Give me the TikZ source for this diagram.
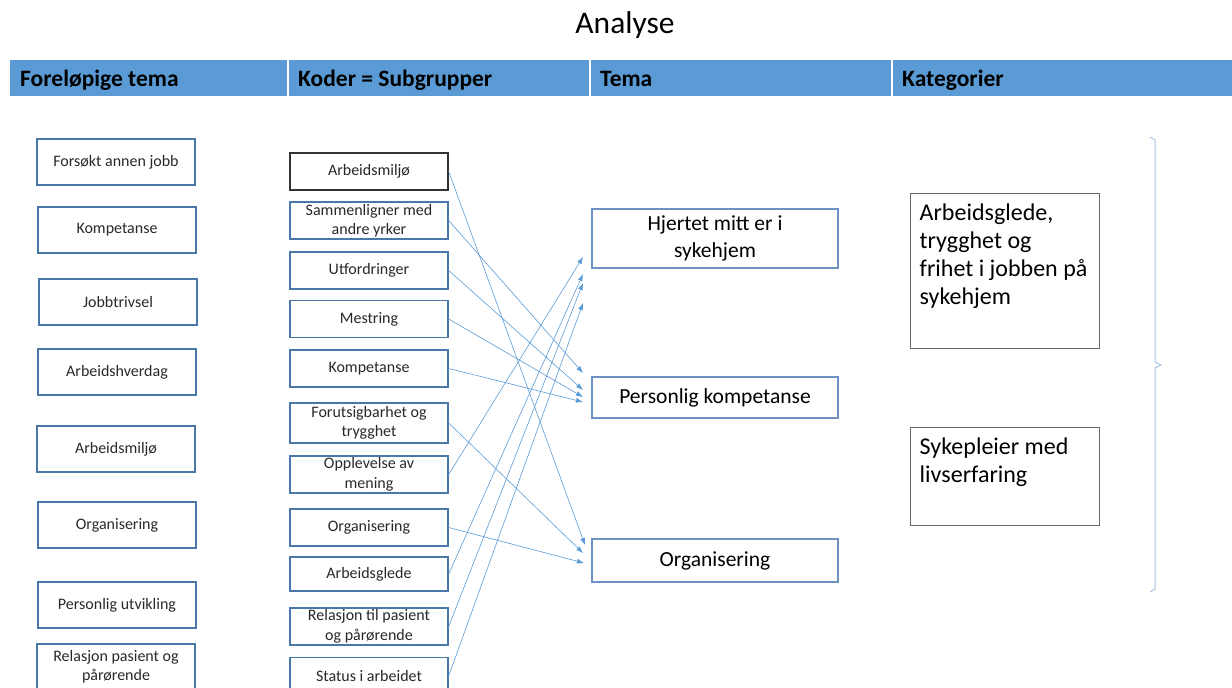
\documentclass[tikz,border=0pt]{standalone}
\usepackage{fontspec}
\setmainfont{Carlito}
\usetikzlibrary{arrows.meta,positioning}

\definecolor{hdrblue}{RGB}{91,155,213}
\definecolor{boxblue}{RGB}{75,120,170}
\definecolor{temablue}{RGB}{110,145,195}
\definecolor{arrowblue}{RGB}{91,155,213}
\definecolor{bracecol}{RGB}{160,195,230}
\definecolor{katgray}{RGB}{105,105,105}
\definecolor{txtgray}{RGB}{40,40,40}

\tikzset{
  forbox/.style={draw=boxblue,line width=1.4pt,minimum width=158pt,minimum height=46pt,
    font=\fontsize{16}{19}\selectfont,align=center,inner sep=0pt,text=txtgray},
  kodebox/.style={draw=boxblue,line width=1.4pt,minimum width=158pt,minimum height=37pt,
    font=\fontsize{16}{19.5}\selectfont,align=center,inner sep=0pt,text=txtgray},
  temabox/.style={draw=temablue,line width=1.4pt,minimum width=246pt,
    font=\fontsize{21.5}{27}\selectfont,align=center,inner sep=0pt},
  katbox/.style={draw=katgray,line width=1pt,minimum width=189pt},
  kattext/.style={font=\fontsize{24}{28}\selectfont,align=left,inner sep=0pt,anchor=north west},
  hdr/.style={font=\bfseries\fontsize{23.5}{26}\selectfont,anchor=base west,inner sep=0pt},
  kobling/.style={arrowblue,line width=0.6pt,-{Latex[length=7pt,width=5pt]}},
}

\begin{document}
\begin{tikzpicture}[x=1pt,y=-1pt]
\useasboundingbox (0,0) rectangle (1232,688);

% tittel og overskrifter
\node[font=\fontsize{31.5}{34}\selectfont] (tittel) at (625,25) {Analyse};
\fill[hdrblue] (10,60) rectangle (1232,96);
\foreach \x in {288,590,892}
  \draw[white,line width=1.5pt] (\x,60) -- (\x,96);
\node[hdr] (hA) at (20,86) {Foreløpige tema};
\node[hdr] (hB) at (298,86) {Koder = Subgrupper};
\node[hdr] (hC) at (600,86) {Tema};
\node[hdr] (hD) at (902,86) {Kategorier};

% foreløpige tema
\node[forbox] (f1) at (116,162) {Forsøkt annen jobb};
\node[forbox] (f2) at (117,230) {Kompetanse};
\node[forbox] (f3) at (118,302) {Jobbtrivsel};
\node[forbox] (f4) at (117,372) {Arbeidshverdag};
\node[forbox] (f5) at (116,449) {Arbeidsmiljø};
\node[forbox] (f6) at (117,525) {Organisering};
\node[forbox] (f7) at (117,605) {Personlig utvikling};
\node[forbox] (f8) at (116,667) {Relasjon pasient og\\pårørende};

% koder
\node[kodebox,draw=black!80] (k1) at (369,171.5) {Arbeidsmiljø};
\node[kodebox] (k2) at (369,220.5) {Sammenligner med\\andre yrker};
\node[kodebox] (k3) at (369,270.5) {Utfordringer};
\node[kodebox] (k4) at (369,319) {Mestring};
\node[kodebox] (k5) at (369,368.5) {Kompetanse};
\node[kodebox,minimum height=40pt] (k6) at (369,423) {Forutsigbarhet og\\trygghet};
\node[kodebox] (k7) at (369,474.5) {Opplevelse av\\mening};
\node[kodebox] (k8) at (369,527.5) {Organisering};
\node[kodebox,minimum height=34pt] (k9) at (369,574) {Arbeidsglede};
\node[kodebox] (k10) at (369,626.5) {Relasjon til pasient\\og pårørende};
\node[kodebox] (k11) at (369,676) {Status i arbeidet};

% tema
\node[temabox,minimum height=59pt] (t1) at (715,238.5) {Hjertet mitt er i\\sykehjem};
\node[temabox,minimum height=41pt] (t2) at (715,397.5) {Personlig kompetanse};
\node[temabox,minimum height=43pt] (t3) at (715,560.5) {Organisering};

% kategorier
\node[katbox,minimum height=155pt] (c1) at (1004.5,270.5) {};
\node[kattext] (c1txt) at ([xshift=10pt,yshift=-11pt]c1.north west)
  {Arbeidsglede,\\trygghet og\\frihet i jobben på\\sykehjem};
\node[katbox,minimum height=98pt] (c2) at (1004.5,476) {};
\node[kattext] (c2txt) at ([xshift=10pt,yshift=-11pt]c2.north west)
  {Sykepleier med\\livserfaring};

% klamme
\draw[bracecol,line width=1pt] (1150,137) -- (1155,140) -- (1155,362) -- (1161,365)
  -- (1155,368) -- (1155,589) -- (1150,592);

% pilendene
\coordinate (tH1) at (583,257);
\coordinate (tH2) at (583,274);
\coordinate (tH3) at (583,283);
\coordinate (tH4) at (583,303);
\coordinate (tP1) at (583,373);
\coordinate (tP2) at (583,390);
\coordinate (tP3) at (583,397);
\coordinate (tP4) at (583,402);
\coordinate (tO1) at (585,545);
\coordinate (tO2) at (583,553);
\coordinate (tO3) at (584,563);

% koblinger
\draw[kobling] (k1.east) -- (tO1);
\draw[kobling] (k2.east) -- (tP1);
\draw[kobling] (k3.east) -- (tP2);
\draw[kobling] (k4.east) -- (tP3);
\draw[kobling] (k5.east) -- (tP4);
\draw[kobling] (k6.east) -- (tO2);
\draw[kobling] (k7.east) -- (tH1);
\draw[kobling] (k8.east) -- (tO3);
\draw[kobling] (k9.east) -- (tH2);
\draw[kobling] (k10.east) -- (tH3);
\draw[kobling] (k11.east) -- (tH4);
\end{tikzpicture}
\end{document}
